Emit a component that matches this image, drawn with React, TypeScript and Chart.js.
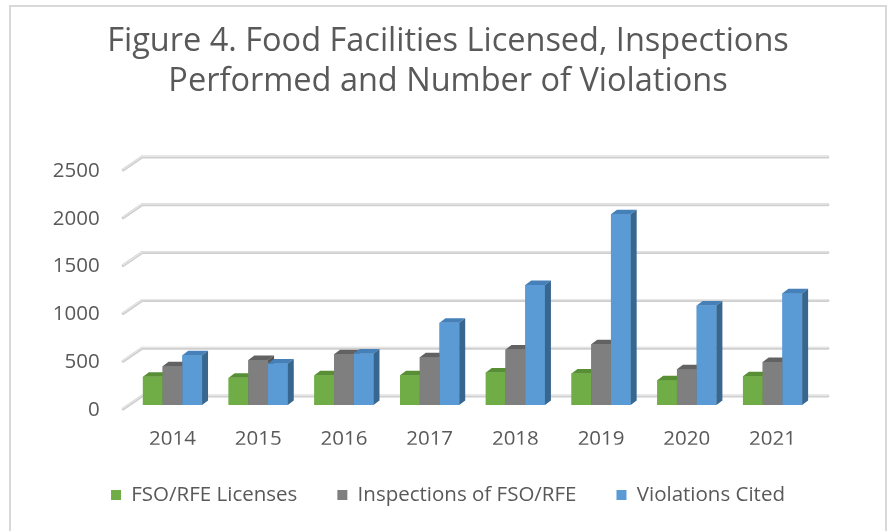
import React, { useEffect, useRef } from "react";
import { Chart, registerables } from "chart.js";

Chart.register(...registerables);

const categories = ["2014", "2015", "2016", "2017", "2018", "2019", "2020", "2021"];
const licenses = [295, 285, 310, 310, 340, 330, 260, 300];
const inspections = [405, 470, 530, 500, 580, 635, 375, 450];
const violations = [520, 435, 540, 860, 1255, 1995, 1040, 1170];
const yTicks = [0, 500, 1000, 1500, 2000, 2500];
const titleLines = ["Figure 4. Food Facilities Licensed, Inspections", "Performed and Number of Violations"];

const FONT = "'Open Sans', sans-serif";
const TEXT = "#595959";

const faceColors = [
  { front: "#70ad47", top: "#588f35", side: "#4b7a2c" },
  { front: "#7f7f7f", top: "#626262", side: "#555555" },
  { front: "#5b9bd5", top: "#4680b8", side: "#37668f" },
];

const BAR_DX = 6;
const BAR_DY = 4.5;

const threeD = {
  id: "threeD",
  beforeDraw(chart: any) {
    const ctx = chart.ctx;
    ctx.save();
    ctx.fillStyle = "#ffffff";
    ctx.fillRect(0, 0, chart.width, chart.height);
    ctx.strokeStyle = "#d9d9d9";
    ctx.lineWidth = 2;
    ctx.strokeRect(10, 6, 876, 540);
    ctx.restore();
  },
  beforeDatasetsDraw(chart: any) {
    const ctx = chart.ctx;
    const y = chart.scales.y;
    const { left, right } = chart.chartArea;
    const fx = left - 6.5;
    const bx = left + 12.5;
    const ex = right + 12.5;
    ctx.save();
    ctx.lineCap = "round";
    for (const v of yTicks) {
      const p = y.getPixelForValue(v);
      const fy = p + 4;
      const by = p - 9;
      ctx.beginPath();
      ctx.moveTo(fx, fy);
      ctx.lineTo(bx, by);
      ctx.lineTo(ex, by);
      ctx.strokeStyle = "#cfcfcf";
      ctx.lineWidth = 3;
      ctx.stroke();
      ctx.beginPath();
      ctx.moveTo(fx, fy - 0.7);
      ctx.lineTo(bx, by - 0.7);
      ctx.lineTo(ex, by - 0.7);
      ctx.strokeStyle = "#e6e6e6";
      ctx.lineWidth = 1.2;
      ctx.stroke();
    }
    ctx.restore();
  },
  afterDatasetsDraw(chart: any) {
    const ctx = chart.ctx;
    const metas = [0, 1, 2].map((i) => chart.getDatasetMeta(i));
    ctx.save();
    for (let c = 0; c < categories.length; c++) {
      for (let d = 0; d < 3; d++) {
        const el: any = metas[d].data[c];
        const p = el.getProps(["x", "y", "base", "width"], true);
        const l = p.x - p.width / 2;
        const r = p.x + p.width / 2;
        const t = p.y;
        const b = p.base;
        const col = faceColors[d];
        ctx.fillStyle = col.front;
        ctx.fillRect(l, t, r - l, b - t);
        ctx.fillStyle = col.top;
        ctx.beginPath();
        ctx.moveTo(l, t);
        ctx.lineTo(l + BAR_DX, t - BAR_DY);
        ctx.lineTo(r + BAR_DX, t - BAR_DY);
        ctx.lineTo(r, t);
        ctx.closePath();
        ctx.fill();
        ctx.fillStyle = col.side;
        ctx.beginPath();
        ctx.moveTo(r, t);
        ctx.lineTo(r + BAR_DX, t - BAR_DY);
        ctx.lineTo(r + BAR_DX, b - BAR_DY);
        ctx.lineTo(r, b);
        ctx.closePath();
        ctx.fill();
      }
    }
    ctx.restore();
  },
};

export default function App() {
  const ref = useRef<HTMLCanvasElement | null>(null);
  useEffect(() => {
    if (!ref.current) return;
    const chart = new Chart(ref.current, {
      type: "bar",
      data: {
        labels: categories,
        datasets: [
          { label: "FSO/RFE Licenses", data: licenses, backgroundColor: faceColors[0].front },
          { label: "Inspections of FSO/RFE", data: inspections, backgroundColor: faceColors[1].front },
          { label: "Violations Cited", data: violations, backgroundColor: faceColors[2].front },
        ],
      },
      options: {
        animation: false,
        responsive: false,
        devicePixelRatio: 1,
        layout: { padding: { left: 9, right: 0, top: 0, bottom: 15.75 } },
        datasets: { bar: { categoryPercentage: 0.69, barPercentage: 1 } },
        plugins: {
          title: {
            display: true,
            text: titleLines,
            color: TEXT,
            font: { family: FONT, size: 32.5, weight: "normal", lineHeight: 40 / 32.5 },
            padding: { top: 22, bottom: 64 },
          },
          legend: {
            position: "bottom",
            labels: {
              color: TEXT,
              font: { family: FONT, size: 20.5 },
              boxWidth: 10,
              boxHeight: 10,
              padding: 40,
            },
          },
          tooltip: { enabled: false },
        },
        scales: {
          x: {
            afterFit: (s: any) => {
              s.height = 39.75;
            },
            grid: { display: false, drawTicks: false },
            border: { display: false },
            ticks: { color: TEXT, font: { family: FONT, size: 20.5 }, padding: 22 },
          },
          y: {
            min: 0,
            max: 2500,
            afterFit: (s: any) => {
              s.width = 120.6;
            },
            afterBuildTicks: (s: any) => {
              s.ticks = yTicks.map((v) => ({ value: v }));
            },
            grid: { display: false, drawTicks: false },
            border: { display: false },
            ticks: {
              color: TEXT,
              font: { family: FONT, size: 20.5 },
              padding: 30,
              labelOffset: 5,
              callback: (v: any) => String(v),
            },
          },
          y2: {
            type: "linear",
            position: "right",
            afterFit: (s: any) => {
              s.width = 71.6;
            },
            grid: { display: false, drawTicks: false },
            border: { display: false },
            ticks: { display: false },
          },
        },
      },
      plugins: [threeD],
    });
    return () => chart.destroy();
  }, []);
  return (
    <div style={{ position: "absolute", left: 0, top: 0, width: 887, height: 531 }}>
      <canvas ref={ref} width={887} height={531} style={{ display: "block" }} />
    </div>
  );
}
